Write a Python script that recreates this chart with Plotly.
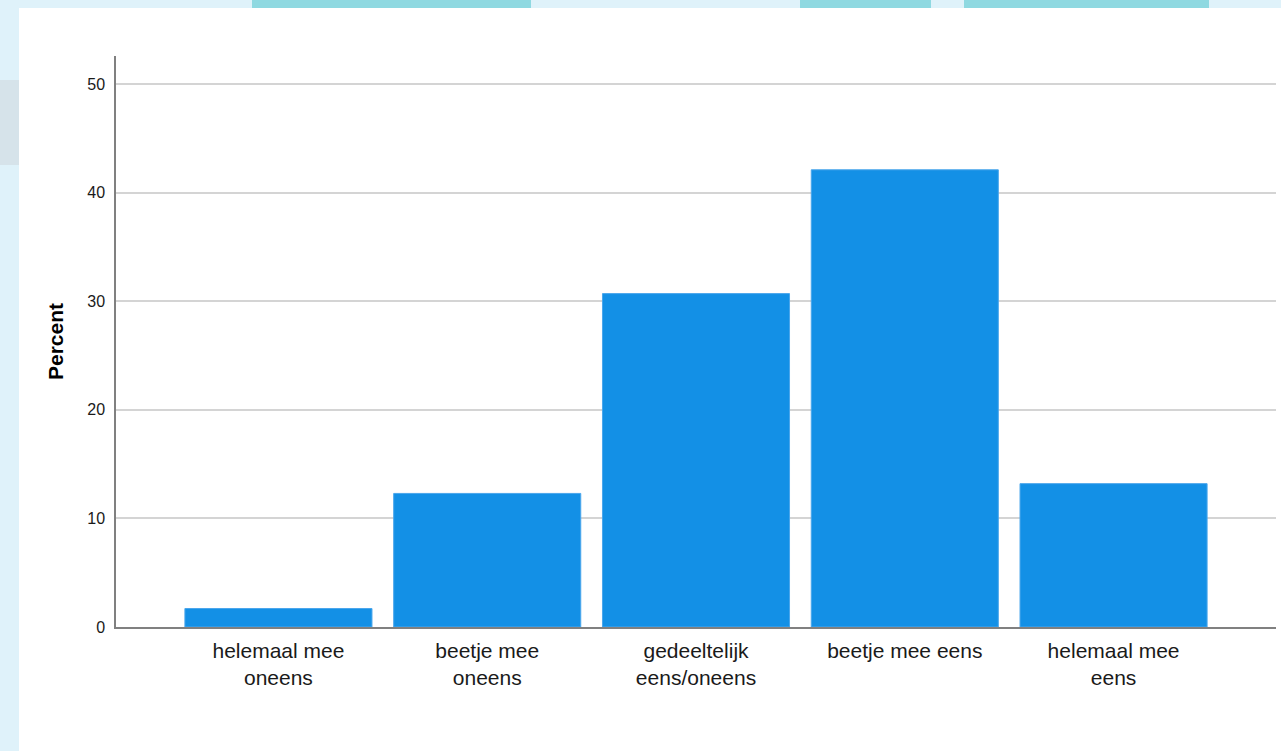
import plotly.graph_objects as go

categories = ["helemaal mee oneens", "beetje mee oneens", "gedeeltelijk eens/oneens",
              "beetje mee eens", "helemaal mee eens"]
percent = [1.7, 12.3, 30.7, 42.1, 13.2]
label_lines = [["helemaal mee", "oneens"], ["beetje mee", "oneens"],
               ["gedeeltelijk", "eens/oneens"], ["beetje mee eens"], ["helemaal mee", "eens"]]
y_ticks = [0, 10, 20, 30, 40, 50]

W, H = 1281, 751
L, R, T, B = 116, 5, 56, 124
pw, ph = W - L - R, H - T - B

def px_x(x):
    return (x - L) / pw

def px_y(y):
    return (H - B - y) / ph

FONT = "Liberation Sans, Arial, sans-serif"

fig = go.Figure(go.Bar(
    x=categories, y=percent,
    marker=dict(color="#1390e6", line=dict(color="#4aa6ec", width=1)),
    hoverinfo="skip",
))

shapes = [
    # white panel
    dict(type="rect", xref="paper", yref="paper", x0=px_x(19), x1=px_x(1290),
         y0=px_y(760), y1=px_y(8), fillcolor="white", line=dict(width=0), layer="below"),
    # left cloud
    dict(type="rect", xref="paper", yref="paper", x0=px_x(0), x1=px_x(19),
         y0=px_y(165), y1=px_y(80), fillcolor="#d6e3ea", line=dict(width=0), layer="below"),
]
for x0, x1 in [(252, 531), (800, 931), (964, 1209)]:
    shapes.append(dict(type="rect", xref="paper", yref="paper", x0=px_x(x0), x1=px_x(x1),
                       y0=px_y(8), y1=px_y(0), fillcolor="#8fd9e1", line=dict(width=0),
                       layer="below"))

fig.update_layout(
    width=W, height=H,
    margin=dict(l=L, r=R, t=T, b=B, pad=0),
    paper_bgcolor="#dff2fa",
    plot_bgcolor="white",
    bargap=0.104,
    showlegend=False,
    shapes=shapes,
    xaxis=dict(
        type="category", range=[-0.778, 4.778], showgrid=False,
        tickvals=categories, ticktext=["<br>".join(l) for l in label_lines],
        tickfont=dict(family=FONT, size=21, color="#1a1a1a"),
        ticks="", ticklabelstandoff=4,
        showline=True, linecolor="#808080", linewidth=1.5, zeroline=False,
    ),
    yaxis=dict(
        range=[0, 52.58], tickvals=y_ticks, ticktext=[str(v) for v in y_ticks],
        showgrid=True, gridcolor="#d4d4d4", gridwidth=2,
        showline=True, linecolor="#808080", linewidth=1.5, zeroline=False,
        ticks="", ticklabelstandoff=6,
        tickfont=dict(family=FONT, size=16, color="#1a1a1a"),
        title=dict(text="<b>Percent</b>", standoff=18,
                   font=dict(family=FONT, size=21, color="#000000")),
    ),
)

fig.write_html(
    "out.html",
    config={"displayModeBar": False},
    post_script="document.body.style.margin='0';document.body.style.overflow='hidden';",
)
